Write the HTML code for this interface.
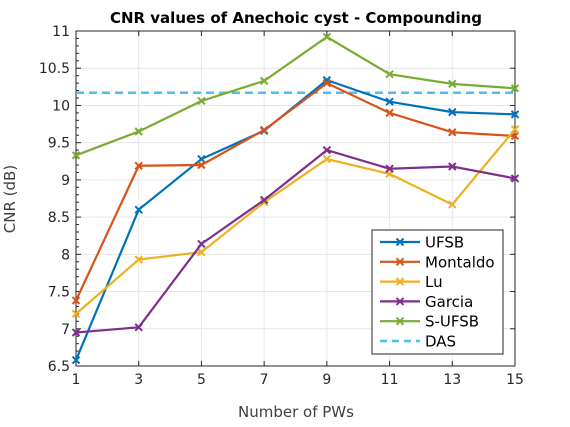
<!DOCTYPE html>
<html><head><meta charset="utf-8"><style>
body{margin:0;background:#fff;}
svg text{font-family:"DejaVu Sans","Liberation Sans",sans-serif;}
</style></head><body>
<svg id="chart" width="570" height="422" xmlns="http://www.w3.org/2000/svg">
<rect width="570" height="422" fill="#fff"/>
<g id="grid"></g>
<g id="axes"></g>
<g id="series"></g>
<text x="296" y="23" text-anchor="middle" font-size="15" font-weight="bold" fill="#000">CNR values of Anechoic cyst - Compounding</text>
<text x="296" y="417" text-anchor="middle" font-size="15" fill="#404040">Number of PWs</text>
<text transform="translate(15,199) rotate(-90)" text-anchor="middle" font-size="15" fill="#404040">CNR (dB)</text>
<g id="legend"></g>
</svg>
<script>
const xCats=[1,3,5,7,9,11,13,15];
const yTicks=[6.5,7,7.5,8,8.5,9,9.5,10,10.5,11];
const yTickLabels=["6.5","7","7.5","8","8.5","9","9.5","10","10.5","11"];
const seriesNames=["UFSB","Montaldo","Lu","Garcia","S-UFSB"];
const ufsb=[6.58,8.6,9.28,9.66,10.34,10.05,9.91,9.88];
const montaldo=[7.38,9.19,9.2,9.67,10.3,9.9,9.64,9.59];
const lu=[7.2,7.93,8.03,8.7,9.28,9.08,8.67,9.68];
const garcia=[6.95,7.02,8.14,8.73,9.4,9.15,9.18,9.02];
const sufsb=[9.33,9.65,10.06,10.33,10.92,10.42,10.29,10.23];
const dasValue=10.17;
const colors=["#0072BD","#D95319","#EDB120","#7E2F8E","#77AC30"];
const L=76,R=515,T=31,B=366;
const xs=v=>L+(v-1)/14*(R-L);
const ys=v=>B-(v-6.5)/4.5*(B-T);
const NS="http://www.w3.org/2000/svg";
function mk(tag,attrs,parent){const e=document.createElementNS(NS,tag);for(const k in attrs)e.setAttribute(k,attrs[k]);parent.appendChild(e);return e;}
const grid=document.getElementById('grid'),axes=document.getElementById('axes'),ser=document.getElementById('series');
xCats.forEach(c=>{const l=mk('line',{x1:xs(c),x2:xs(c),y1:T,y2:B,stroke:'#e6e6e6'},grid);});
yTicks.forEach(v=>{const l=mk('line',{x1:L,x2:R,y1:ys(v),y2:ys(v),stroke:'#e6e6e6'},grid);});
const box=mk('rect',{x:L,y:T,width:R-L,height:B-T,fill:'none',stroke:'#262626'},axes);


xCats.forEach(c=>{mk('line',{x1:xs(c),x2:xs(c),y1:B,y2:B-5,stroke:'#262626'},axes);mk('line',{x1:xs(c),x2:xs(c),y1:T,y2:T+5,stroke:'#262626'},axes);
const t=mk('text',{x:xs(c),y:B+18,'text-anchor':'middle','font-size':14,fill:'#262626'},axes);t.textContent=c;});
yTicks.forEach((v,i)=>{mk('line',{x1:L,x2:L+5,y1:ys(v),y2:ys(v),stroke:'#262626'},axes);mk('line',{x1:R,x2:R-5,y1:ys(v),y2:ys(v),stroke:'#262626'},axes);
const t=mk('text',{x:L-6,y:ys(v)+5,'text-anchor':'end','font-size':14,fill:'#262626'},axes);t.textContent=yTickLabels[i];});
for(let v=6.6;v<11;v+=0.1){if(Math.abs((v*2)-Math.round(v*2))<0.01)continue;mk('line',{x1:L,x2:L+3,y1:ys(v),y2:ys(v),stroke:'#262626'},axes);}
const das=mk('line',{x1:L,x2:R,y1:ys(dasValue),y2:ys(dasValue),stroke:'#4DBEEE','stroke-width':2.5,'stroke-dasharray':'8,5'},ser);


function cross(g,x,y,c){mk('path',{d:`M${x-3.5},${y-3.5}L${x+3.5},${y+3.5}M${x-3.5},${y+3.5}L${x+3.5},${y-3.5}`,stroke:c,'stroke-width':2},g);}
[ufsb,montaldo,lu,garcia,sufsb].forEach((d,i)=>{
const g=mk('g',{},ser);


mk('polyline',{points:d.map((v,j)=>xs(xCats[j])+','+ys(v)).join(' '),fill:'none',stroke:colors[i],'stroke-width':2.2},g);
d.forEach((v,j)=>cross(g,xs(xCats[j]),ys(v),colors[i]));});
const lg=document.getElementById('legend');
mk('rect',{x:372,y:230,width:131,height:124,fill:'#fff',stroke:'#262626'},lg);
const names=[...seriesNames,"DAS"],lc=[...colors,"#4DBEEE"];
names.forEach((n,i)=>{const y=242+i*19.8;
if(i<5){mk('line',{x1:380,x2:420,y1:y,y2:y,stroke:lc[i],'stroke-width':2.2},lg);cross(lg,400,y,lc[i]);}
else mk('line',{x1:380,x2:420,y1:y,y2:y,stroke:lc[i],'stroke-width':2.5,'stroke-dasharray':'7,5'},lg);
const t=mk('text',{x:425,y:y+5.5,'font-size':15,fill:'#000'},lg);t.textContent=n;

});
</script>
</body></html>
